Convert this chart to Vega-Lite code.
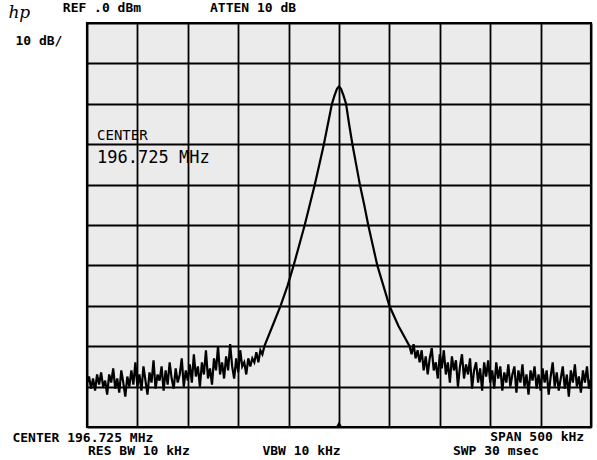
{
  "$schema": "https://vega.github.io/schema/vega-lite/v6.json",
  "width": 504,
  "height": 404,
  "autosize": {"type": "none"},
  "padding": {"left": 87, "top": 23, "right": 6, "bottom": 33},
  "background": "white",
  "config": {
    "view": {"fill": "#ebebeb", "stroke": "black", "strokeWidth": 2.2},
    "axis": {"grid": true, "gridColor": "black", "gridWidth": 1.8, "gridOpacity": 1, "labels": false, "ticks": false, "domain": false, "title": null}
  },
  "datasets": {
    "trace": [
      {"f": -250, "dB": -89}, {"f": -248, "dB": -87.5}, {"f": -246, "dB": -90.5}, {"f": -244, "dB": -88}, {"f": -242, "dB": -91},
      {"f": -240, "dB": -87}, {"f": -238, "dB": -89.5}, {"f": -236, "dB": -86.5}, {"f": -234, "dB": -90}, {"f": -232, "dB": -88.5},
      {"f": -230, "dB": -92}, {"f": -228, "dB": -87}, {"f": -226, "dB": -89}, {"f": -224, "dB": -85.5}, {"f": -222, "dB": -90.5},
      {"f": -220, "dB": -88}, {"f": -218, "dB": -91.5}, {"f": -216, "dB": -86}, {"f": -214, "dB": -89}, {"f": -212, "dB": -92.5},
      {"f": -210, "dB": -87.5}, {"f": -208, "dB": -90}, {"f": -206, "dB": -86}, {"f": -204, "dB": -89.5}, {"f": -202, "dB": -84},
      {"f": -200, "dB": -90}, {"f": -198, "dB": -87}, {"f": -196, "dB": -91}, {"f": -194, "dB": -85}, {"f": -192, "dB": -88.5},
      {"f": -190, "dB": -92}, {"f": -188, "dB": -86.5}, {"f": -186, "dB": -89}, {"f": -184, "dB": -83.5}, {"f": -182, "dB": -90.5},
      {"f": -180, "dB": -87}, {"f": -178, "dB": -88.5}, {"f": -176, "dB": -85}, {"f": -174, "dB": -91}, {"f": -172, "dB": -86},
      {"f": -170, "dB": -89.5}, {"f": -168, "dB": -84}, {"f": -166, "dB": -88}, {"f": -164, "dB": -90.5}, {"f": -162, "dB": -85.5},
      {"f": -160, "dB": -89}, {"f": -158, "dB": -87}, {"f": -156, "dB": -83}, {"f": -154, "dB": -90}, {"f": -152, "dB": -86},
      {"f": -150, "dB": -88.5}, {"f": -148, "dB": -84.5}, {"f": -146, "dB": -89}, {"f": -144, "dB": -82}, {"f": -142, "dB": -87.5},
      {"f": -140, "dB": -85}, {"f": -138, "dB": -90}, {"f": -136, "dB": -84}, {"f": -134, "dB": -87}, {"f": -132, "dB": -81},
      {"f": -130, "dB": -88}, {"f": -128, "dB": -85.5}, {"f": -126, "dB": -89.5}, {"f": -124, "dB": -83}, {"f": -122, "dB": -86},
      {"f": -120, "dB": -80}, {"f": -118, "dB": -87}, {"f": -116, "dB": -84}, {"f": -114, "dB": -88}, {"f": -112, "dB": -82.5},
      {"f": -110, "dB": -86}, {"f": -108, "dB": -79.5}, {"f": -106, "dB": -85}, {"f": -104, "dB": -88}, {"f": -102, "dB": -83},
      {"f": -100, "dB": -86.5}, {"f": -98, "dB": -81}, {"f": -96, "dB": -85}, {"f": -94, "dB": -84}, {"f": -92, "dB": -87},
      {"f": -90, "dB": -83}, {"f": -88, "dB": -85}, {"f": -86, "dB": -83}, {"f": -84, "dB": -84}, {"f": -82, "dB": -81.5},
      {"f": -80, "dB": -84}, {"f": -78, "dB": -81}, {"f": -76, "dB": -82},
      {"f": -74, "dB": -80}, {"f": -66, "dB": -75}, {"f": -58, "dB": -70}, {"f": -51, "dB": -65}, {"f": -45, "dB": -60},
      {"f": -39.5, "dB": -55}, {"f": -34, "dB": -50}, {"f": -29, "dB": -45}, {"f": -24, "dB": -40}, {"f": -19.5, "dB": -35},
      {"f": -15, "dB": -30}, {"f": -11, "dB": -25}, {"f": -7, "dB": -20}, {"f": -4.5, "dB": -18}, {"f": -2, "dB": -16.3},
      {"f": 0, "dB": -15.7}, {"f": 2, "dB": -16.3}, {"f": 4.5, "dB": -18}, {"f": 7, "dB": -20}, {"f": 10, "dB": -25},
      {"f": 13.3, "dB": -30}, {"f": 17, "dB": -35}, {"f": 20.7, "dB": -40}, {"f": 25, "dB": -45}, {"f": 29, "dB": -50},
      {"f": 33.5, "dB": -55}, {"f": 38, "dB": -60}, {"f": 44, "dB": -65}, {"f": 50, "dB": -70}, {"f": 59, "dB": -75},
      {"f": 70, "dB": -80}, {"f": 72, "dB": -82}, {"f": 74, "dB": -79.5}, {"f": 76, "dB": -83}, {"f": 78, "dB": -81},
      {"f": 80, "dB": -84}, {"f": 82, "dB": -81}, {"f": 84, "dB": -86}, {"f": 86, "dB": -82.5}, {"f": 88, "dB": -87},
      {"f": 90, "dB": -83}, {"f": 92, "dB": -80.5}, {"f": 94, "dB": -86}, {"f": 96, "dB": -84}, {"f": 98, "dB": -88},
      {"f": 100, "dB": -82}, {"f": 102, "dB": -85.5}, {"f": 104, "dB": -81}, {"f": 106, "dB": -87}, {"f": 108, "dB": -84},
      {"f": 110, "dB": -89}, {"f": 112, "dB": -82.5}, {"f": 114, "dB": -86}, {"f": 116, "dB": -83.5}, {"f": 118, "dB": -90},
      {"f": 120, "dB": -85}, {"f": 122, "dB": -82}, {"f": 124, "dB": -88}, {"f": 126, "dB": -84.5}, {"f": 128, "dB": -87},
      {"f": 130, "dB": -83}, {"f": 132, "dB": -90.5}, {"f": 134, "dB": -86}, {"f": 136, "dB": -84}, {"f": 138, "dB": -89},
      {"f": 140, "dB": -85.5}, {"f": 142, "dB": -91}, {"f": 144, "dB": -84}, {"f": 146, "dB": -87.5}, {"f": 148, "dB": -83.5},
      {"f": 150, "dB": -89}, {"f": 152, "dB": -86}, {"f": 154, "dB": -90.5}, {"f": 156, "dB": -84}, {"f": 158, "dB": -88},
      {"f": 160, "dB": -85}, {"f": 162, "dB": -91}, {"f": 164, "dB": -86.5}, {"f": 166, "dB": -89}, {"f": 168, "dB": -84.5},
      {"f": 170, "dB": -90}, {"f": 172, "dB": -87}, {"f": 174, "dB": -85}, {"f": 176, "dB": -91.5}, {"f": 178, "dB": -86},
      {"f": 180, "dB": -89}, {"f": 182, "dB": -84.5}, {"f": 184, "dB": -90}, {"f": 186, "dB": -87}, {"f": 188, "dB": -92},
      {"f": 190, "dB": -86}, {"f": 192, "dB": -88.5}, {"f": 194, "dB": -85}, {"f": 196, "dB": -90.5}, {"f": 198, "dB": -87},
      {"f": 200, "dB": -91}, {"f": 202, "dB": -85.5}, {"f": 204, "dB": -89}, {"f": 206, "dB": -86}, {"f": 208, "dB": -92},
      {"f": 210, "dB": -87.5}, {"f": 212, "dB": -84}, {"f": 214, "dB": -90}, {"f": 216, "dB": -86.5}, {"f": 218, "dB": -91},
      {"f": 220, "dB": -88}, {"f": 222, "dB": -85}, {"f": 224, "dB": -90.5}, {"f": 226, "dB": -87}, {"f": 228, "dB": -92.5},
      {"f": 230, "dB": -86}, {"f": 232, "dB": -89}, {"f": 234, "dB": -84.5}, {"f": 236, "dB": -90}, {"f": 238, "dB": -87.5},
      {"f": 240, "dB": -91.5}, {"f": 242, "dB": -86}, {"f": 244, "dB": -89}, {"f": 246, "dB": -85}, {"f": 248, "dB": -90.5},
      {"f": 250, "dB": -88}
    ],
    "notes": [
      {"f": -274, "dB": 3.7, "label": "REF .0 dBm", "kind": "hdr"},
      {"f": -128, "dB": 3.7, "label": "ATTEN 10 dB", "kind": "hdr"},
      {"f": -321, "dB": -4.5, "label": "10 dB/", "kind": "hdr"},
      {"f": -324, "dB": -102.7, "label": "CENTER 196.725 MHz", "kind": "hdr"},
      {"f": -249, "dB": -105.9, "label": "RES BW 10 kHz", "kind": "hdr"},
      {"f": -76, "dB": -105.9, "label": "VBW 10 kHz", "kind": "hdr"},
      {"f": 150, "dB": -102.5, "label": "SPAN 500 kHz", "kind": "hdr"},
      {"f": 113, "dB": -105.9, "label": "SWP 30 msec", "kind": "hdr"},
      {"f": -240, "dB": -28.0, "label": "CENTER", "kind": "mid"},
      {"f": -240, "dB": -33.5, "label": "196.725 MHz", "kind": "big"},
      {"f": -328, "dB": 2.5, "label": "hp", "kind": "logo"}
    ],
    "marker": [{"f": 0, "dB": -99.2}]
  },
  "encoding": {
    "x": {"field": "f", "type": "quantitative", "scale": {"domain": [-250, 250], "nice": false, "zero": false},
          "axis": {"values": [-250, -200, -150, -100, -50, 0, 50, 100, 150, 200, 250]}},
    "y": {"field": "dB", "type": "quantitative", "scale": {"domain": [-100, 0], "nice": false, "zero": false},
          "axis": {"values": [-100, -90, -80, -70, -60, -50, -40, -30, -20, -10, 0]}}
  },
  "layer": [
    {"data": {"name": "trace"}, "mark": {"type": "line", "color": "black", "strokeWidth": 2.2, "interpolate": "linear", "clip": true}},
    {"data": {"name": "marker"}, "mark": {"type": "point", "shape": "triangle-up", "filled": true, "color": "black", "size": 30, "opacity": 1}},
    {"data": {"name": "notes"}, "transform": [{"filter": "datum.kind === 'hdr'"}],
     "mark": {"type": "text", "align": "left", "baseline": "middle", "font": "DejaVu Sans Mono", "fontWeight": "bold", "fontSize": 13, "color": "black"},
     "encoding": {"text": {"field": "label"}}},
    {"data": {"name": "notes"}, "transform": [{"filter": "datum.kind === 'mid'"}],
     "mark": {"type": "text", "align": "left", "baseline": "middle", "font": "DejaVu Sans Mono", "fontSize": 14, "color": "black"},
     "encoding": {"text": {"field": "label"}}},
    {"data": {"name": "notes"}, "transform": [{"filter": "datum.kind === 'big'"}],
     "mark": {"type": "text", "align": "left", "baseline": "middle", "font": "DejaVu Sans Mono", "fontSize": 17, "color": "black"},
     "encoding": {"text": {"field": "label"}}},
    {"data": {"name": "notes"}, "transform": [{"filter": "datum.kind === 'logo'"}],
     "mark": {"type": "text", "align": "left", "baseline": "middle", "font": "DejaVu Serif", "fontStyle": "italic", "fontSize": 17, "color": "black"},
     "encoding": {"text": {"field": "label"}}}
  ]
}
